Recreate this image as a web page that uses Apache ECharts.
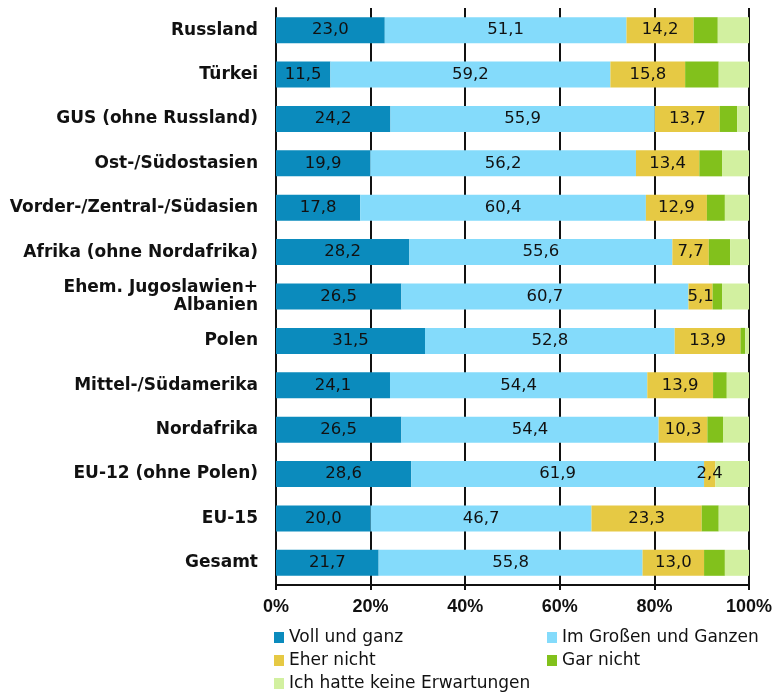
<!DOCTYPE html>
<html>
<head>
<meta charset="utf-8">
<script src="https://cdn.jsdelivr.net/npm/echarts@6/dist/echarts.min.js"></script>
<style>
  html, body { margin: 0; padding: 0; background: #fff; }
  #chart { width: 780px; height: 694px; }
</style>
</head>
<body>
<div id="chart"></div>
<script>
// categories, top to bottom
var categories = [
  'Russland', 'Türkei', 'GUS (ohne Russland)', 'Ost-/Südostasien',
  'Vorder-/Zentral-/Südasien', 'Afrika (ohne Nordafrika)',
  'Ehem. Jugoslawien+\nAlbanien', 'Polen', 'Mittel-/Südamerika',
  'Nordafrika', 'EU-12 (ohne Polen)', 'EU-15', 'Gesamt'
];

var seriesNames = ['Voll und ganz', 'Im Großen und Ganzen', 'Eher nicht', 'Gar nicht', 'Ich hatte keine Erwartungen'];

var vollUndGanz   = [23.0, 11.5, 24.2, 19.9, 17.8, 28.2, 26.5, 31.5, 24.1, 26.5, 28.6, 20.0, 21.7];
var imGrossen     = [51.1, 59.2, 55.9, 56.2, 60.4, 55.6, 60.7, 52.8, 54.4, 54.4, 61.9, 46.7, 55.8];
var eherNicht     = [14.2, 15.8, 13.7, 13.4, 12.9, 7.7, 5.1, 13.9, 13.9, 10.3, 2.4, 23.3, 13.0];
// not labelled in the picture
var garNicht      = [5.1, 7.1, 3.7, 4.8, 3.8, 4.5, 2.0, 1.0, 2.9, 3.3, 0.0, 3.6, 4.4];
var keineErwart   = [6.6, 6.4, 2.5, 5.7, 5.1, 4.0, 5.7, 0.8, 4.7, 5.5, 7.1, 6.4, 5.1];

var xTicks = [0, 20, 40, 60, 80, 100];

var colors = ['#0b8bbd', '#84dbfb', '#e6c944', '#82c11c', '#d2f0a0'];
var values = [vollUndGanz, imGrossen, eherNicht, garNicht, keineErwart];
var labelled = [true, true, true, false, false];

var series = seriesNames.map(function (name, i) {
  return {
    name: name,
    type: 'bar',
    stack: 'total',
    barWidth: 26,
    itemStyle: { color: colors[i] },
    label: {
      show: labelled[i],
      position: 'inside',
      color: '#111',
      fontFamily: 'DejaVu Sans',
      fontSize: 16.5,
      formatter: function (p) { return p.value.toFixed(1).replace('.', ','); }
    },
    emphasis: { disabled: true },
    data: values[i]
  };
});

// one legend per entry so they sit in two columns like the original
var legendPos = [
  { left: 274, top: 629 }, { left: 547, top: 629 },
  { left: 274, top: 652 }, { left: 547, top: 652 },
  { left: 274, top: 675 }
];
var legends = seriesNames.map(function (name, i) {
  return {
    data: [name],
    left: legendPos[i].left,
    top: legendPos[i].top,
    padding: 0,
    icon: 'rect',
    itemWidth: 10,
    itemHeight: 11,
    selectedMode: false,
    textStyle: { fontFamily: 'DejaVu Sans', fontSize: 17, color: '#111' }
  };
});

var chart = echarts.init(document.getElementById('chart'));
chart.setOption({
  animation: false,
  backgroundColor: '#fff',
  legend: legends,
  grid: { left: 276, right: 31, top: 8, bottom: 109, containLabel: false },
  xAxis: {
    type: 'value',
    min: xTicks[0],
    max: xTicks[xTicks.length - 1],
    interval: 20,
    axisLine: { show: true, lineStyle: { color: '#111', width: 2 } },
    axisTick: { show: true, length: 5, lineStyle: { color: '#111', width: 2 } },
    splitLine: { show: true, lineStyle: { color: '#111', width: 2 } },
    axisLabel: {
      margin: 13,
      color: '#111',
      fontFamily: 'Liberation Sans',
      fontWeight: 'bold',
      fontSize: 18,
      formatter: '{value}%'
    }
  },
  yAxis: {
    type: 'category',
    inverse: true,
    data: categories,
    axisLine: { show: true, lineStyle: { color: '#111', width: 2 } },
    axisTick: { show: false },
    axisLabel: {
      margin: 18,
      color: '#111',
      fontFamily: 'DejaVu Sans',
      fontWeight: 'bold',
      fontSize: 17,
      lineHeight: 18,
      align: 'right'
    }
  },
  series: series
});
</script>
</body>
</html>
